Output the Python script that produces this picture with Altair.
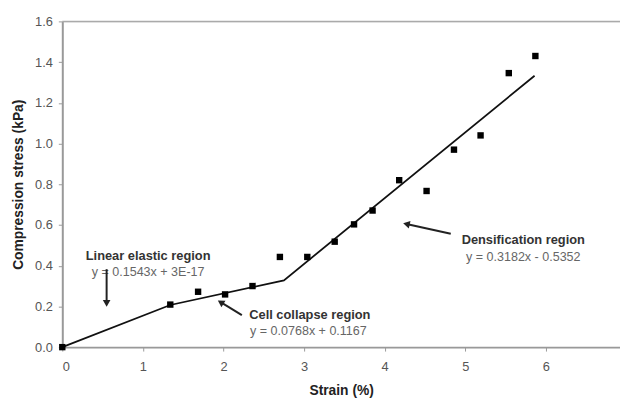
import altair as alt
import pandas as pd

# measured data points
strain = [0.0, 1.34, 1.685, 2.02, 2.36, 2.70, 3.04, 3.38, 3.62, 3.85, 4.18, 4.52, 4.86, 5.19, 5.54, 5.87]
stress = [0.0, 0.209, 0.272, 0.259, 0.300, 0.443, 0.443, 0.518, 0.603, 0.671, 0.82, 0.767, 0.97, 1.04, 1.346, 1.43]

# piecewise trend line vertices
fit_x = [0.0, 1.34, 2.75, 5.86]
fit_y = [0.0, 0.207, 0.328, 1.333]

# annotations
label_titles = ["Linear elastic region", "Cell collapse region", "Densification region"]
label_eqs = ["y = 0.1543x + 3E-17", "y = 0.0768x + 0.1167", "y = 0.3182x - 0.5352"]
title_x = [1.065, 2.32, 5.72]
title_y = [0.448, 0.157, 0.526]
eq_x = [1.065, 2.33, 5.72]
eq_y = [0.367, 0.078, 0.443]
aligns = ["center", "left", "center"]

arrow_x = [0.55, 2.228, 4.82]
arrow_y = [0.383, 0.157, 0.557]
arrow_x2 = [0.55, 1.965, 4.27]
arrow_y2 = [0.215, 0.221, 0.605]
arrow_angle = [180, 302, 283]

x_ticks = [0, 1, 2, 3, 4, 5, 6]
y_ticks = [0.0, 0.2, 0.4, 0.6, 0.8, 1.0, 1.2, 1.4, 1.6]

FONT = "Liberation Sans"

pts = pd.DataFrame({"x": strain, "y": stress})
fit = pd.DataFrame({"x": fit_x, "y": fit_y, "o": list(range(len(fit_x)))})

xs = alt.Scale(domain=[0, 6.92], nice=False)
ys = alt.Scale(domain=[0, 1.6], nice=False)

xaxis = alt.Axis(values=x_ticks, format="d", title="Strain (%)", grid=False,
                 domainColor="#999999", domainWidth=2, tickColor="#999999", tickSize=4,
                 labelColor="#555555", labelFont=FONT, labelFontSize=13, labelPadding=10,
                 titleFont=FONT, titleFontSize=14, titleFontWeight="bold", titleColor="#222222",
                 titlePadding=10)
yaxis = alt.Axis(values=y_ticks, format=".1f", title="Compression stress (kPa)", grid=False,
                 domainColor="#999999", domainWidth=2, tickColor="#999999", tickSize=4,
                 labelColor="#555555", labelFont=FONT, labelFontSize=13, labelPadding=6,
                 titleFont=FONT, titleFontSize=14, titleFontWeight="bold", titleColor="#222222",
                 titlePadding=9)

base_pts = alt.Chart(pts).mark_square(color="black", size=42, opacity=1).encode(
    x=alt.X("x:Q", scale=xs, axis=xaxis),
    y=alt.Y("y:Q", scale=ys, axis=yaxis),
)

line = alt.Chart(fit).mark_line(color="#111111", strokeWidth=1.8).encode(
    x=alt.X("x:Q", scale=xs), y=alt.Y("y:Q", scale=ys), order="o:O")

top = alt.Chart(pd.DataFrame({"a": [0]})).mark_rule(color="#aaaaaa", strokeWidth=1.5).encode(
    x=alt.value(0), x2=alt.value(565), y=alt.value(0))

ann = pd.DataFrame({"t": label_titles, "e": label_eqs, "tx": title_x, "ty": title_y,
                    "ex": eq_x, "ey": eq_y, "al": aligns})

titles = []
for al in ["center", "left"]:
    sub = ann[ann.al == al]
    titles.append(alt.Chart(sub).mark_text(font=FONT, fontSize=13, fontWeight="bold",
                                           color="#333333", align=al).encode(
        x=alt.X("tx:Q", scale=xs), y=alt.Y("ty:Q", scale=ys), text="t:N"))
    titles.append(alt.Chart(sub).mark_text(font=FONT, fontSize=12.7, color="#666666", align=al).encode(
        x=alt.X("ex:Q", scale=xs), y=alt.Y("ey:Q", scale=ys), text="e:N"))

arr = pd.DataFrame({"x": arrow_x, "y": arrow_y, "x2": arrow_x2, "y2": arrow_y2, "a": arrow_angle})
shafts = alt.Chart(arr).mark_rule(color="#222222", strokeWidth=2).encode(
    x=alt.X("x:Q", scale=xs), y=alt.Y("y:Q", scale=ys), x2="x2:Q", y2="y2:Q")
heads = alt.Chart(arr).mark_point(shape="triangle-up", filled=True, color="#222222",
                                  size=60, opacity=1).encode(
    x=alt.X("x2:Q", scale=xs), y=alt.Y("y2:Q", scale=ys), angle=alt.Angle("a:Q", scale=None))

chart = alt.layer(top, line, base_pts, *titles, shafts, heads).properties(
    width=565, height=330,
    autosize=alt.AutoSizeParams(type="none"),
    padding={"left": 55, "top": 11, "right": 0, "bottom": 52},
).configure_view(stroke=None).configure(background="white")

chart.save("out.html", embed_options={"renderer": "svg", "actions": False})
